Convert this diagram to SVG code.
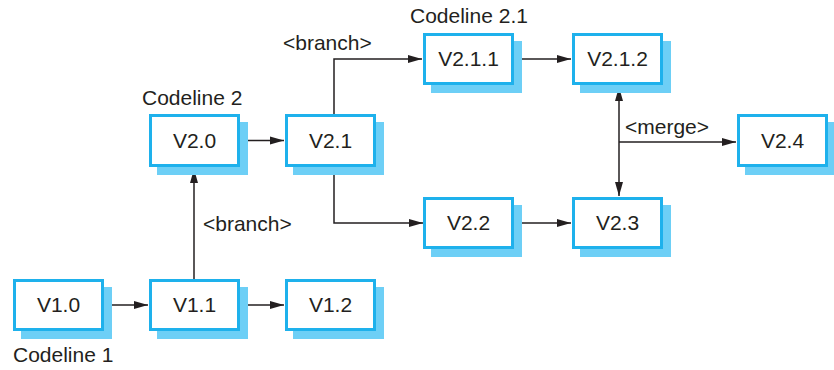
<svg xmlns="http://www.w3.org/2000/svg" width="834" height="370" viewBox="0 0 834 370">
<style>
.box{fill:#fff;stroke:#1EB1EC;stroke-width:3}
.sh{fill:#6DCFF6}
.t{font-family:"Liberation Sans",Arial,sans-serif;font-size:21px;fill:#231F20}
.m{text-anchor:middle}
.c{fill:none;stroke:#231F20;stroke-width:1.5}
</style>
<defs>
<marker id="ah" markerUnits="userSpaceOnUse" markerWidth="16" markerHeight="12" refX="14" refY="5" orient="auto-start-reverse" viewBox="0 0 16 10">
<path d="M0,1 L14,5 L0,9 Z" fill="#231F20"/>
</marker>
</defs>
<rect width="834" height="370" fill="#fff"/>
<g id="connectors">
<line class="c" x1="104" y1="305" x2="148" y2="305" marker-end="url(#ah)"/>
<line class="c" x1="240" y1="305" x2="284" y2="305" marker-end="url(#ah)"/>
<line class="c" x1="194" y1="279" x2="194" y2="169" marker-end="url(#ah)"/>
<line class="c" x1="240" y1="140.5" x2="284" y2="140.5" marker-end="url(#ah)"/>
<polyline class="c" points="334,114 334,59 422,59" marker-end="url(#ah)"/>
<polyline class="c" points="334,175 334,223 423,223" marker-end="url(#ah)"/>
<line class="c" x1="516" y1="59" x2="571" y2="59" marker-end="url(#ah)"/>
<line class="c" x1="517" y1="223" x2="571" y2="223" marker-end="url(#ah)"/>
<line class="c" x1="619" y1="87" x2="619" y2="196" marker-start="url(#ah)" marker-end="url(#ah)"/>
<line class="c" x1="619" y1="142" x2="736" y2="142" marker-end="url(#ah)"/>
<text class="t" x="203" y="231">&lt;branch&gt;</text>
<text class="t" x="283" y="50">&lt;branch&gt;</text>
<text class="t" x="625" y="134">&lt;merge&gt;</text>
</g>
<g id="V1.0"><rect class="sh" x="21" y="287" width="91" height="52"/><rect class="box" x="14.5" y="280.5" width="88" height="49"/><text class="t m" x="58.5" y="312">V1.0</text></g>
<g id="V1.1"><rect class="sh" x="157" y="287" width="91" height="52"/><rect class="box" x="150.5" y="280.5" width="88" height="49"/><text class="t m" x="194.5" y="312">V1.1</text></g>
<g id="V1.2"><rect class="sh" x="293" y="287" width="91" height="52"/><rect class="box" x="286.5" y="280.5" width="88" height="49"/><text class="t m" x="330.5" y="312">V1.2</text></g>
<g id="V2.0"><rect class="sh" x="157" y="122" width="91" height="53"/><rect class="box" x="150.5" y="115.5" width="88" height="50"/><text class="t m" x="194.5" y="148">V2.0</text></g>
<g id="V2.1"><rect class="sh" x="293" y="122" width="91" height="53"/><rect class="box" x="286.5" y="115.5" width="88" height="50"/><text class="t m" x="330.5" y="148">V2.1</text></g>
<g id="V2.4"><rect class="sh" x="745" y="122" width="91" height="53"/><rect class="box" x="738.5" y="115.5" width="88" height="50"/><text class="t m" x="782.5" y="148">V2.4</text></g>
<g id="V2.1.1"><rect class="sh" x="431" y="41" width="91" height="52"/><rect class="box" x="424.5" y="34.5" width="88" height="49"/><text class="t m" x="468.5" y="66">V2.1.1</text></g>
<g id="V2.1.2"><rect class="sh" x="580" y="41" width="91" height="52"/><rect class="box" x="573.5" y="34.5" width="88" height="49"/><text class="t m" x="617.5" y="66">V2.1.2</text></g>
<g id="V2.2"><rect class="sh" x="431" y="205" width="91" height="52"/><rect class="box" x="424.5" y="198.5" width="88" height="49"/><text class="t m" x="468.5" y="230">V2.2</text></g>
<g id="V2.3"><rect class="sh" x="580" y="205" width="91" height="52"/><rect class="box" x="573.5" y="198.5" width="88" height="49"/><text class="t m" x="617.5" y="230">V2.3</text></g>
<text class="t" x="13" y="362">Codeline 1</text>
<text class="t" x="142" y="105">Codeline 2</text>
<text class="t" x="410" y="23">Codeline 2.1</text>
</svg>
